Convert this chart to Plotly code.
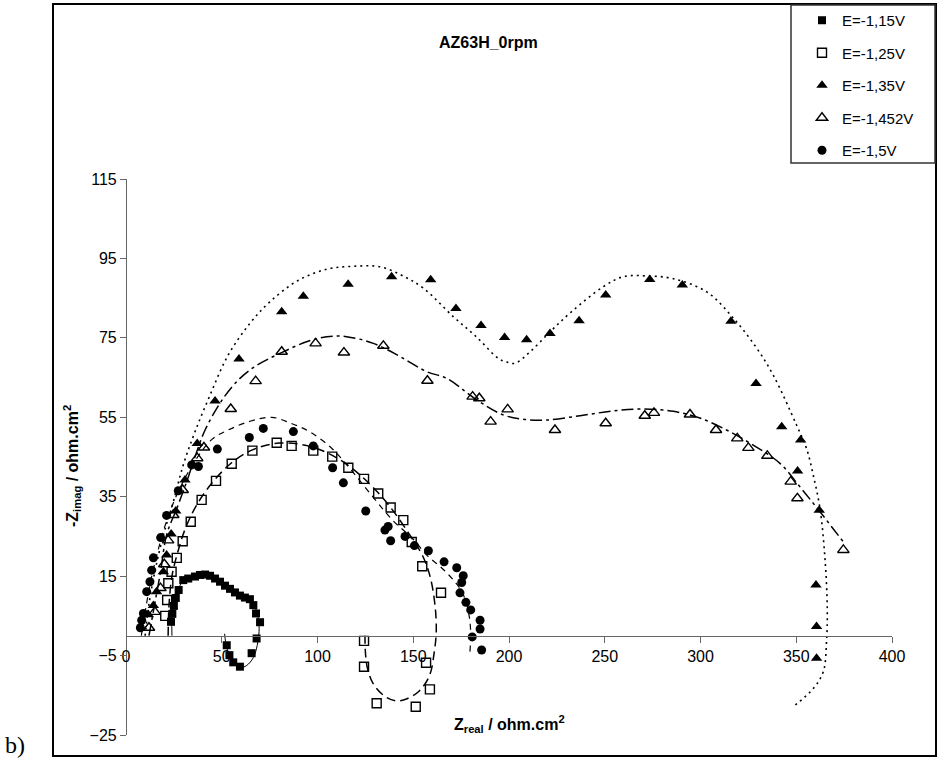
import plotly.graph_objects as go

# ---------------- data ----------------
x115 = [23.5, 24.2, 25.0, 26.0, 27.5, 29.9, 32.5, 36.0, 38.6, 41.3, 43.9, 46.5, 49.1, 51.7,
        54.3, 56.9, 59.5, 62.1, 64.7, 66.5, 67.9, 70.0, 68.2, 65.6, 59.5, 56.0, 54.0, 52.6]
y115 = [3.5, 5.5, 7.5, 9.5, 11.5, 14.0, 14.4, 14.9, 15.3, 15.4, 15.1, 14.4, 13.6, 12.6,
        11.8, 10.9, 10.1, 9.6, 9.2, 7.7, 5.6, 3.4, -0.7, -4.4, -7.8, -6.7, -4.9, -2.4]

x125 = [20.5, 21.5, 22.1, 23.8, 26.5, 29.6, 33.8, 39.5, 47.0, 55.2, 66.0, 78.7, 86.5, 97.8,
        107.7, 116.1, 124.3, 131.7, 138.2, 144.8, 149.2, 154.7, 164.5, 156.7, 158.7, 151.3,
        130.9, 124.3, 124.3]
y125 = [5.0, 9.0, 13.2, 16.1, 19.6, 23.8, 28.7, 34.2, 39.0, 43.3, 46.6, 48.6, 47.8, 46.6,
        45.1, 42.3, 39.5, 35.8, 32.3, 29.1, 23.6, 17.5, 10.8, -6.8, -13.5, -17.9,
        -17.0, -7.8, -1.3]

x135 = [11.7, 14.3, 16.0, 19.5, 21.2, 23.6, 26.0, 30.8, 37.2, 46.5, 59.0, 81.3, 92.6, 116.0,
        138.7, 159.1, 172.3, 185.4, 197.7, 209.2, 221.4, 236.6, 250.5, 273.5, 290.5, 315.9,
        329.0, 342.4, 352.3, 350.7, 362.0, 360.3, 360.6, 360.6]
y135 = [5.3, 7.6, 11.1, 16.1, 20.3, 25.6, 31.4, 39.2, 48.4, 59.1, 69.7, 81.6, 85.5, 88.5,
        90.4, 89.6, 82.4, 78.1, 75.1, 74.5, 76.1, 79.3, 85.8, 89.7, 88.3, 79.2,
        63.5, 52.6, 49.3, 41.5, 31.6, 12.8, 2.3, -5.7]

x1452 = [12, 15, 18, 20, 22, 24.7, 29.6, 37.2, 40.7, 54.7, 67.7, 81.3, 99.0, 113.8, 134.4,
         157.4, 181.0, 184.5, 190.4, 199.3, 224.0, 250.5, 270.9, 275.7, 294.5, 308.1, 319.2,
         325.0, 334.9, 347.1, 350.6, 374.6]
y1452 = [2, 6, 12, 18, 24, 30.4, 36.7, 44.7, 47.4, 57.1, 64.1, 71.5, 73.6, 71.3, 73.0,
         64.2, 60.2, 59.8, 53.9, 57.0, 51.8, 53.5, 55.4, 56.1, 55.7, 51.8, 49.7,
         47.3, 45.3, 38.8, 34.6, 21.6]

x15 = [7.5, 8.2, 9.1, 10.8, 12.5, 13.4, 14.3, 18.1, 21.2, 27.3, 34.3, 37.8, 47.7, 64.4, 71.7,
       87.4, 97.8, 107.9, 113.5, 125.2, 135.2, 136.9, 138.2, 145.7, 150.6, 157.9, 166.1,
       172.7, 176.1, 175.3, 174.4, 177.5, 180.0, 184.9, 184.9, 180.8, 185.7]
y15 = [2.0, 3.9, 5.6, 11.1, 13.6, 16.5, 19.6, 24.7, 30.3, 36.5, 43.0, 42.6, 47.0, 49.9, 52.2,
       51.4, 47.8, 42.3, 38.5, 31.4, 26.6, 27.5, 23.9, 25.0, 22.7, 21.4, 18.6,
       17.1, 15.1, 13.4, 10.8, 8.4, 6.5, 3.9, 1.7, -0.3, -3.6]

# fitted curves
f115_x = [24, 24, 25, 27, 30, 34, 38, 42, 46, 50, 55, 60, 64, 67, 69, 69.5, 68.5, 66.5, 63,
          59.5, 56, 53.5, 52, 51.5]
f115_y = [0, 4, 8, 11.5, 13.8, 15, 15.5, 15.3, 14.5, 13.2, 11.5, 10, 9, 7.5, 4.5, 1, -2.5,
          -5.5, -7.5, -8, -7, -4.5, -1.5, 0.5]

f125_x = [22, 22.5, 24, 27, 31, 37, 45, 55, 66, 80, 95, 110, 124, 137, 148, 155, 159, 161.5,
          162, 161, 158.5, 153, 146, 141, 135, 129, 126, 125, 124.8]
f125_y = [0, 8, 15, 21, 27, 33, 38.5, 43.5, 46.8, 48.5, 47.8, 44.8, 39.7, 33, 25.5, 20, 14.5,
          7, 1, -4, -10, -14, -16, -16.4, -15.2, -12, -8, -4, 0]

f135_x = [10, 12, 15, 19.5, 24.7, 29.9, 36, 43.9, 53.4, 64.8, 75.2, 90, 105, 118, 132.6, 145,
          155.3, 171, 183.1, 194.5, 198.9, 203.1, 211, 221.4, 232.7, 249.3, 259.7, 271.9,
          285.8, 303.2, 317.3, 329.5, 338, 350.2, 355.4, 358.9, 362.4, 365, 366.2, 365.8,
          364.1, 358.9, 348]
f135_y = [0, 8, 16, 25.3, 33.7, 43, 51.3, 60.6, 70.7, 78.7, 84.1, 89.5, 92.3, 93, 92.9, 90.5,
          87.5, 80.3, 75.2, 69.8, 68.9, 68.6, 71.5, 76.5, 81.6, 87.9, 90.4, 90.6,
          89.9, 86.6, 79.9, 72.3, 65.6, 53, 47.1, 40.4, 32, 19.4, 6.8, -1.6,
          -9.1, -13.3, -18]

f1452_x = [12, 15, 18, 21.2, 26.5, 31.7, 36, 41.3, 50.8, 59.5, 68, 80.4, 94.3, 104.8, 115.2,
           129.2, 143.1, 157, 167.5, 183.1, 197, 207.5, 219.7, 237.1, 254.5, 270.2, 285.8,
           299.7, 313.6, 327.5, 341.5, 351.9, 362.4, 374.6]
f1452_y = [0, 8, 16, 25.4, 32, 38.8, 45, 51.8, 59.8, 64.8, 68, 71.1, 74, 75.3, 75.3,
           73.6, 70.3, 66.5, 64.8, 59.4, 55.6, 54.5, 54.3, 55.4, 56.6, 57.1, 56.5,
           54.8, 51.8, 48, 43.4, 37.5, 31.2, 23.6]

f15_x = [8, 10, 13, 17, 22, 28, 36, 45, 53.4, 64.8, 76.1, 85.6, 96.1, 107.4, 115.2, 129.2,
         139.6, 150, 157, 165, 171, 175.5, 178, 179.5, 180, 179.6]
f15_y = [0, 6, 14, 22, 30, 37, 44, 49.5, 51.8, 54, 55, 53.6, 51.3, 47.2, 43.1, 34.8,
         28.9, 24.3, 20.3, 17, 14, 11, 7.7, 4, 0, -4]

labels = ["E=-1,15V", "E=-1,25V", "E=-1,35V", "E=-1,452V", "E=-1,5V"]
x_ticks = [0, 50, 100, 150, 200, 250, 300, 350, 400]
y_ticks = [-25, -5, 15, 35, 55, 75, 95, 115]

# ---------------- figure ----------------
FONT = "Liberation Sans, Arial, sans-serif"
fig = go.Figure()

fits = [
    (f115_x, f115_y, dict(color="black", width=1, dash="solid")),
    (f125_x, f125_y, dict(color="black", width=1.5, dash="9px,5px")),
    (f135_x, f135_y, dict(color="black", width=1.6, dash="2px,4px")),
    (f1452_x, f1452_y, dict(color="black", width=1.5, dash="12px,4px,3px,4px")),
    (f15_x, f15_y, dict(color="black", width=1.2, dash="6px,5px")),
]
for fx, fy, ln in fits:
    fig.add_trace(go.Scatter(x=fx, y=fy, mode="lines", line=dict(shape="spline", **ln),
                             showlegend=False, hoverinfo="skip"))

series = [
    (x115, y115, dict(symbol="square", size=8, color="black")),
    (x125, y125, dict(symbol="square-open", size=9, color="black", line=dict(width=1.4, color="black"))),
    (x135, y135, dict(symbol="triangle-up", size=10, color="black")),
    (x1452, y1452, dict(symbol="triangle-up-open", size=10, color="black", line=dict(width=1.4, color="black"))),
    (x15, y15, dict(symbol="circle", size=9, color="black")),
]
for (sx, sy, mk), name in zip(series, labels):
    fig.add_trace(go.Scatter(x=sx, y=sy, mode="markers", marker=mk, name=name,
                             legendgroup=name))

W, H = 938, 776
L, R, T, B = 126, 46, 179, 41
pw, ph = W - L - R, H - T - B

def px(xp):
    return (xp - L) / pw

def py(yp):
    return (H - B - yp) / ph

fig.update_layout(
    width=W, height=H,
    margin=dict(l=L, r=R, t=T, b=B, pad=0, autoexpand=False),
    paper_bgcolor="white", plot_bgcolor="white",
    font=dict(family=FONT, size=16, color="black"),
    xaxis=dict(range=[0, 400], tickvals=x_ticks, showgrid=False, zeroline=False,
               showline=True, linecolor="#666", linewidth=1.2,
               ticks="outside", ticklen=6, tickcolor="#666", tickwidth=1.2,
               anchor="free", position=25 / 140, tickfont=dict(size=16)),
    yaxis=dict(range=[-25, 115], tickvals=y_ticks, showgrid=False, zeroline=False,
               showline=True, linecolor="#666", linewidth=1.2,
               ticks="outside", ticklen=6, tickcolor="#666", tickwidth=1.2,
               anchor="free", position=0, tickfont=dict(size=16)),
    legend=dict(x=px(802), y=py(4), xanchor="left", yanchor="top",
                bgcolor="rgba(0,0,0,0)", borderwidth=0,
                font=dict(family=FONT, size=15), tracegroupgap=10,
                itemsizing="trace"),
    showlegend=True,
)

fig.add_shape(type="rect", xref="paper", yref="paper",
              x0=px(53), x1=px(936), y0=py(756), y1=py(4),
              line=dict(color="black", width=2), layer="below")
fig.add_shape(type="rect", xref="paper", yref="paper",
              x0=px(791), x1=px(935), y0=py(163), y1=py(5),
              line=dict(color="#333", width=1.5), layer="below")

fig.add_annotation(text="<b>AZ63H_0rpm</b>", xref="paper", yref="paper",
                   x=px(488), y=py(42), showarrow=False,
                   font=dict(family=FONT, size=16), xanchor="center", yanchor="middle")
fig.add_annotation(text="<b>Z<sub>real</sub> / ohm.cm<sup>2</sup></b>", xref="paper", yref="paper",
                   x=px(509), y=py(724), showarrow=False,
                   font=dict(family=FONT, size=16), xanchor="center", yanchor="middle")
fig.add_annotation(text="<b>-Z<sub>imag</sub> / ohm.cm<sup>2</sup></b>", xref="paper", yref="paper",
                   x=px(72), y=py(466), showarrow=False, textangle=-90,
                   font=dict(family=FONT, size=16), xanchor="center", yanchor="middle")
fig.add_annotation(text="b)", xref="paper", yref="paper",
                   x=px(3), y=py(745), showarrow=False,
                   font=dict(family="Liberation Serif, Times New Roman, serif", size=24),
                   xanchor="left", yanchor="middle")

fig.write_html("out.html")
